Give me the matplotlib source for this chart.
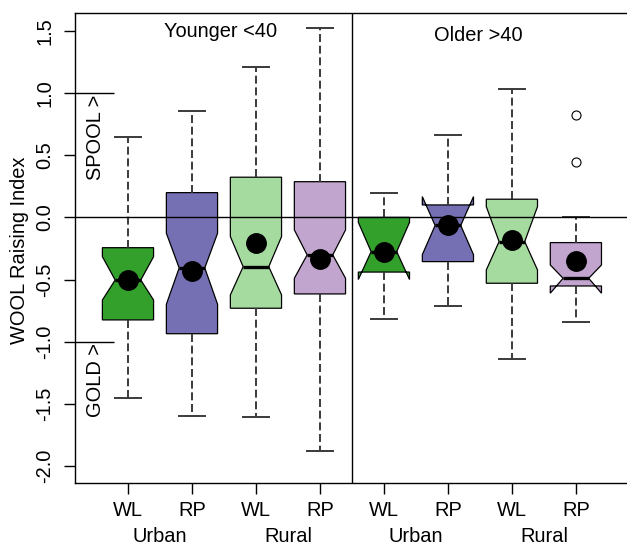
import numpy as np
import matplotlib
matplotlib.use("Agg")
import matplotlib.pyplot as plt

plt.rcParams['font.family'] = ['Liberation Sans', 'DejaVu Sans']
plt.rcParams['axes.unicode_minus'] = False

# boxes: Younger Urban WL, RP, Rural WL, RP, then Older Urban WL, RP, Rural WL, RP
positions = [1, 2, 3, 4, 5, 6, 7, 8]
q1 = [-0.825, -0.936, -0.731, -0.616, -0.44, -0.356, -0.53, -0.552]
q3 = [-0.244, 0.199, 0.323, 0.287, 0.0, 0.10, 0.146, -0.203]
medians = [-0.504, -0.407, -0.397, -0.302, -0.276, -0.065, -0.195, -0.49]
notch_lo = [-0.665, -0.699, -0.624, -0.49, -0.50, -0.30, -0.423, -0.61]
notch_hi = [-0.316, -0.128, -0.155, -0.101, -0.04, 0.167, 0.086, -0.383]
whisk_lo = [-1.45, -1.595, -1.603, -1.879, -0.82, -0.713, -1.137, -0.841]
whisk_hi = [0.647, 0.856, 1.208, 1.526, 0.199, 0.663, 1.03, 0.0]
means = [-0.504, -0.43, -0.203, -0.337, -0.276, -0.06, -0.18, -0.348]
outliers = [[], [], [], [], [], [], [], [0.823, 0.443]]
colors = ['#33A02C', '#7570B3', '#A6DBA0', '#C2A5CF'] * 2
tick_labels = ['WL', 'RP', 'WL', 'RP', 'WL', 'RP', 'WL', 'RP']
area_labels = ['Urban', 'Rural', 'Urban', 'Rural']
area_pos = [1.5, 3.5, 5.5, 7.5]
yticks = [-2.0, -1.5, -1.0, -0.5, 0.0, 0.5, 1.0, 1.5]

fs = 14.4

fig = plt.figure(figsize=(6.27, 5.45), dpi=100)
ax = fig.add_axes([75 / 627, 62 / 545, 554 / 627, 470 / 545])

stats = []
for i in range(len(positions)):
    stats.append(dict(med=medians[i], q1=q1[i], q3=q3[i], cilo=notch_lo[i],
                      cihi=notch_hi[i], whislo=whisk_lo[i], whishi=whisk_hi[i],
                      fliers=outliers[i]))

bp = ax.bxp(stats, positions=positions, widths=0.8, shownotches=True, patch_artist=True,
            showfliers=True,
            boxprops=dict(linewidth=0.9, edgecolor='black'),
            medianprops=dict(color='black', linewidth=2.4, solid_capstyle='butt'),
            whiskerprops=dict(color='#3a3a3a', linewidth=1.4, linestyle=(0, (4.1, 1.9))),
            capprops=dict(color='#3a3a3a', linewidth=1.4),
            flierprops=dict(marker='o', markerfacecolor='none', markeredgecolor='black',
                            markersize=6.5, markeredgewidth=0.8))
for patch, c in zip(bp['boxes'], colors):
    patch.set_facecolor(c)

ax.plot(positions, means, 'o', color='black', markersize=14, zorder=5)

ax.axhline(0, color='black', linewidth=1.0, zorder=4)
ax.axvline(4.5, color='black', linewidth=1.0, zorder=4)
ax.hlines([1.0, -1.0], 0, 0.78, color='black', linewidth=1.0)

ax.text(0.49, 0.985, 'SPOOL >', rotation=90, ha='center', va='top', fontsize=fs)
ax.text(0.49, -1.012, 'GOLD >', rotation=90, ha='center', va='top', fontsize=fs)
ax.text(2.45, 1.449, 'Younger <40', ha='center', va='baseline', fontsize=fs)
ax.text(6.47, 1.42, 'Older >40', ha='center', va='baseline', fontsize=fs)

ax.set_xlim(0.172, 8.83)
ax.set_ylim(-2.137, 1.644)

ax.set_xticks(positions)
ax.set_xticklabels(tick_labels, fontsize=fs)
ax.set_yticks(yticks)
ax.set_yticklabels(['%.1f' % v for v in yticks], fontsize=fs, rotation=90,
                   va='center', ha='right')
ax.tick_params(axis='both', length=8, width=1.0, direction='out')
ax.tick_params(axis='x', pad=5)
ax.tick_params(axis='y', pad=7)

for xp, lab in zip(area_pos, area_labels):
    ax.text(xp, -0.1255, lab, ha='center', va='baseline', fontsize=fs,
            transform=ax.get_xaxis_transform())

fig.text(20 / 627, 1 - 250 / 545, 'WOOL Raising Index', rotation=90,
         ha='center', va='center', fontsize=fs)

for sp in ax.spines.values():
    sp.set_linewidth(1.0)

fig.savefig('out.png', dpi=100)
